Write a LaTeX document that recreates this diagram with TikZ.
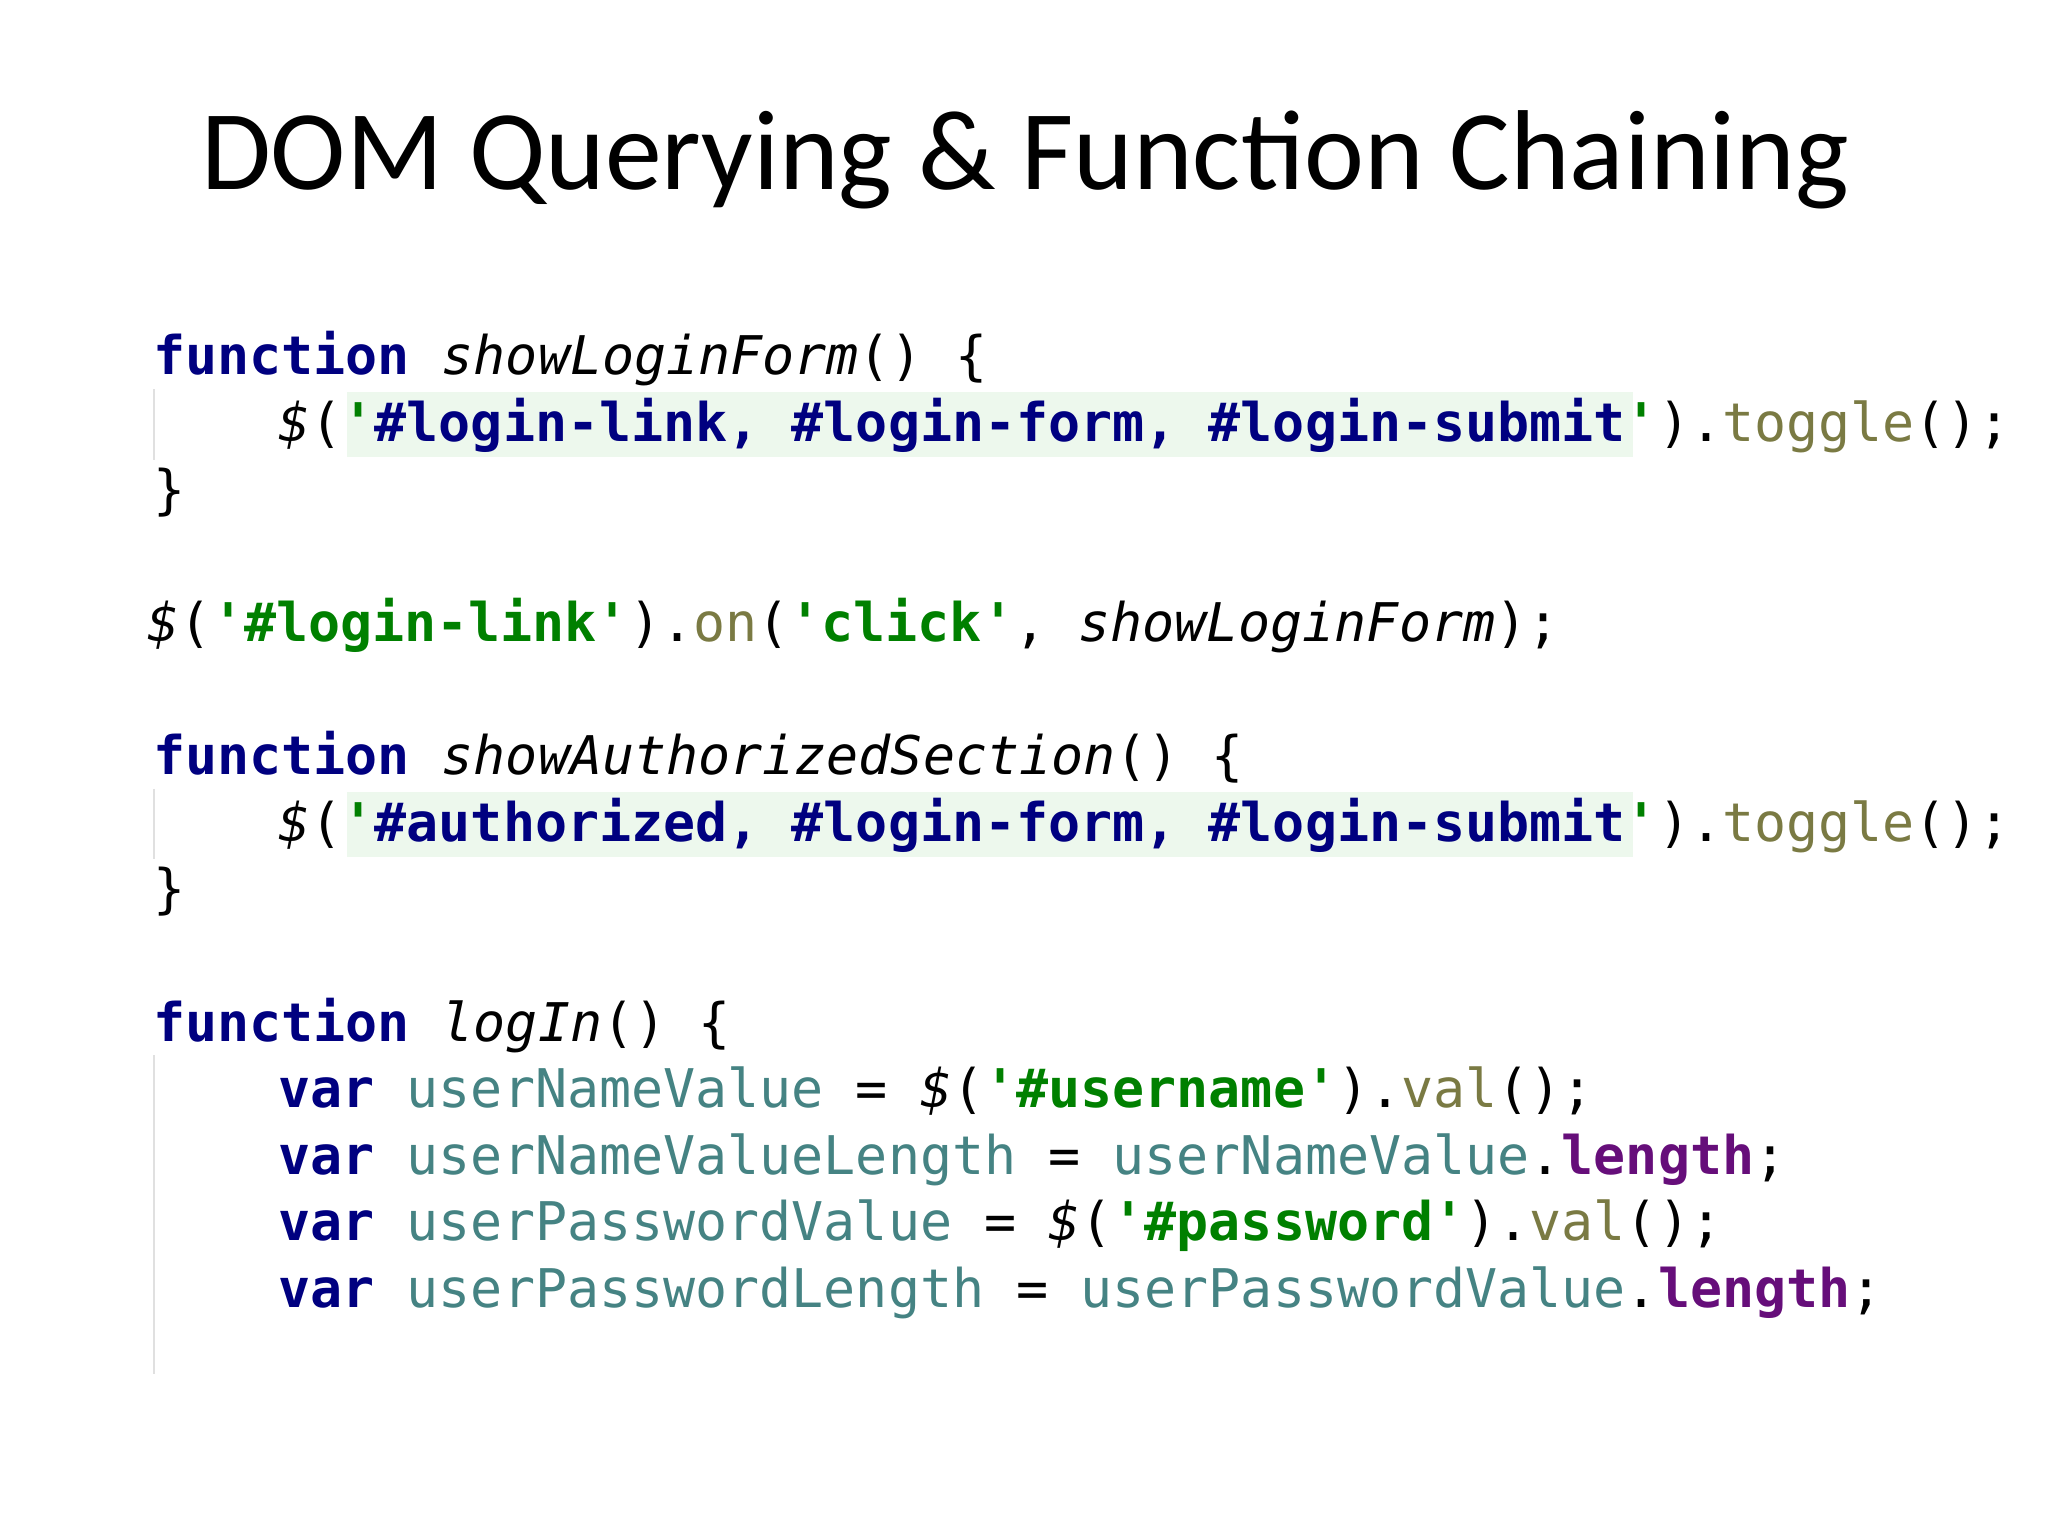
\documentclass[tikz,border=0pt]{standalone}
\usepackage{fontspec}
\setmainfont{Carlito}
\setmonofont{DejaVu Sans Mono}
\definecolor{kwc}{RGB}{0,0,128}
\definecolor{strc}{RGB}{0,128,0}
\definecolor{fnc}{RGB}{122,122,67}
\definecolor{varc}{RGB}{69,131,131}
\definecolor{propc}{RGB}{102,14,122}
\definecolor{hlc}{RGB}{237,248,237}
\newcommand{\kw}[1]{\textcolor{kwc}{\bfseries #1}}
\newcommand{\st}[1]{\textcolor{strc}{\bfseries #1}}
\newcommand{\sel}[1]{\textcolor{kwc}{\bfseries #1}}
\newcommand{\fn}[1]{\textcolor{fnc}{#1}}
\newcommand{\vr}[1]{\textcolor{varc}{#1}}
\newcommand{\pr}[1]{\textcolor{propc}{\bfseries #1}}
\newcommand{\itl}[1]{{\itshape #1}}
\newcommand{\qq}{\char39}
\begin{document}
\begin{tikzpicture}[x=1pt,y=-1pt,
  code/.style={anchor=base west,inner sep=0pt,font=\ttfamily\fontsize{40.8}{40.8}\selectfont}]
\useasboundingbox (0,0) rectangle (1568,1176);
\fill[white] (0,0) rectangle (1568,1176);
\fill[hlc] (266,300) rectangle (1250,350);
\fill[hlc] (266,606) rectangle (1250,656);
\draw[black!12,line width=1.2pt] (118,298) -- (118,352);
\draw[black!12,line width=1.2pt] (118,604) -- (118,658);
\draw[black!12,line width=1.2pt] (118,808) -- (118,1052);
\node[anchor=center,font=\fontsize{87}{87}\selectfont] (title) at (785,122) {DOM Querying \& Function Chaining};
\node[code] (l1) at (117,287) {\kw{function} \itl{showLoginForm}() \{};
\node[code] (l2) at (213,338) {\itl{\$}(\st{\qq}\sel{\#login-link, \#login-form, \#login-submit}\st{\qq}).\fn{toggle}();};
\node[code] (l3) at (117,389) {\}};
\node[code] (l5) at (113,491) {\itl{\$}(\st{\qq\#login-link\qq}).\fn{on}(\st{\qq click\qq}, \itl{showLoginForm});};
\node[code] (l7) at (117,593) {\kw{function} \itl{showAuthorizedSection}() \{};
\node[code] (l8) at (213,644) {\itl{\$}(\st{\qq}\sel{\#authorized, \#login-form, \#login-submit}\st{\qq}).\fn{toggle}();};
\node[code] (l9) at (117,695) {\}};
\node[code] (l11) at (117,797) {\kw{function} \itl{logIn}() \{};
\node[code] (l12) at (213,848) {\kw{var} \vr{userNameValue} = \itl{\$}(\st{\qq\#username\qq}).\fn{val}();};
\node[code] (l13) at (213,899) {\kw{var} \vr{userNameValueLength} = \vr{userNameValue}.\pr{length};};
\node[code] (l14) at (213,950) {\kw{var} \vr{userPasswordValue} = \itl{\$}(\st{\qq\#password\qq}).\fn{val}();};
\node[code] (l15) at (213,1001) {\kw{var} \vr{userPasswordLength} = \vr{userPasswordValue}.\pr{length};};
\end{tikzpicture}
\end{document}
